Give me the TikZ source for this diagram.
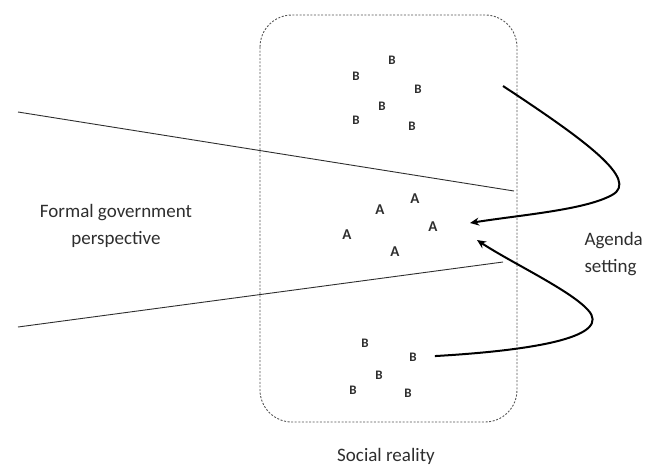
\documentclass[tikz,border=0pt]{standalone}
\usepackage{fontspec}
\setmainfont{Carlito}
\usepackage{tikz}
\usetikzlibrary{arrows.meta, positioning, calc}
\definecolor{InkGrey}{HTML}{2E2E2E}
\definecolor{FrameGrey}{HTML}{555555}

\begin{document}
\begin{tikzpicture}[x=1pt, y=-1pt,
    actorA/.style={font=\fontsize{15}{15}\selectfont\bfseries, color=InkGrey, inner sep=2pt},
    actorB/.style={font=\fontsize{13}{13}\selectfont\bfseries, color=InkGrey, inner sep=2pt},
    caption/.style={font=\fontsize{19}{27}\selectfont, color=InkGrey, align=center},
    pull/.style={line width=2pt, -{Stealth[length=9pt, width=8pt]}}]
                    \useasboundingbox (0,0) rectangle (649,467);
                    \draw[color=FrameGrey, line width=0.9pt, dash pattern=on 2pt off 1.6pt, rounded corners=32pt] (260,15) rectangle (517,422);

                    \coordinate (wedgeTopL) at (18,112);
                    \coordinate (wedgeTopR) at (514,191);
                    \coordinate (wedgeBotL) at (18,327);
                    \coordinate (wedgeBotR) at (503,262);
                    \draw[color=InkGrey, line width=0.9pt] (wedgeTopL) -- (wedgeTopR);
                    \draw[color=InkGrey, line width=0.9pt] (wedgeBotL) -- (wedgeBotR);

                    \node[actorB] (bt1) at (392,60) {B};
                    \node[actorB] (bt2) at (356,76) {B};
                    \node[actorB] (bt3) at (418,89) {B};
                    \node[actorB] (bt4) at (382,106) {B};
                    \node[actorB] (bt5) at (356,120) {B};
                    \node[actorB] (bt6) at (412,126) {B};

                    \node[actorA] (a1) at (415,199) {A};
                    \node[actorA] (a2) at (380,210) {A};
                    \node[actorA] (a3) at (347,235) {A};
                    \node[actorA] (a4) at (433,227) {A};
                    \node[actorA] (a5) at (395,252) {A};

                    \node[actorB] (bb1) at (365,343) {B};
                    \node[actorB] (bb2) at (413,357) {B};
                    \node[actorB] (bb3) at (379,375) {B};
                    \node[actorB] (bb4) at (353,390) {B};
                    \node[actorB] (bb5) at (408,393) {B};

                    \node[caption] (formal) at (116,226) {Formal government\\perspective};
                    \node[caption] (social) at (386,456) {Social reality};
                    \node[caption, anchor=west, align=left] (agenda) at (581,254) {Agenda\\setting};

                    \coordinate (pushStart) at (503,86);
                    \coordinate (focusUp) at (470,223);
                    \coordinate (focusDown) at (477,240);
                    \draw[pull] (pushStart) .. controls (585,140) and (640,180) .. (612,195) .. controls (585,210) and (520,215) .. (focusUp);
                    \draw[pull, shorten <=16pt] (bb2.east) .. controls (540,350) and (612,336) .. (588,310) .. controls (570,290) and (510,262) .. (focusDown);
                \end{tikzpicture}
\end{document}
